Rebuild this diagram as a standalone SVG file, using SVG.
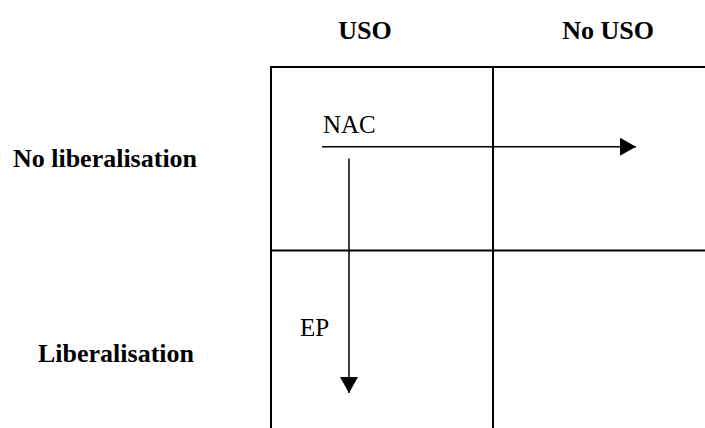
<svg xmlns="http://www.w3.org/2000/svg" width="705" height="428" viewBox="0 0 705 428">
<style>
.hdr{font-family:"Liberation Serif","Times New Roman",serif;font-weight:bold;font-size:26px;fill:#000}
.lbl{font-family:"Liberation Serif","Times New Roman",serif;font-size:25px;fill:#000}
.grid{stroke:#000;stroke-width:2;fill:none}
.conn{stroke:#000;stroke-width:1.5;fill:none}
</style>
<defs>
<marker id="ah" viewBox="0 0 16 18" refX="16" refY="9" markerWidth="16" markerHeight="18" markerUnits="userSpaceOnUse" orient="auto">
<path d="M0,0 L16,9 L0,18 Z" fill="#000"/>
</marker>
</defs>
<g id="headers">
<text class="hdr" x="365" y="39" text-anchor="middle">USO</text>
<text class="hdr" x="608" y="39" text-anchor="middle">No USO</text>
<text class="hdr" x="105" y="167" text-anchor="middle">No liberalisation</text>
<text class="hdr" x="116" y="362" text-anchor="middle">Liberalisation</text>
</g>
<g id="grid">
<path class="grid" d="M271,428 L271,67 L706,67"/>
<path class="grid" d="M493,67 L493,428"/>
<path class="grid" d="M271,250.5 L706,250.5"/>
</g>
<g id="connectors">
<line class="conn" x1="322" y1="146.7" x2="636" y2="146.7" marker-end="url(#ah)"/>
<line class="conn" x1="349" y1="158.5" x2="349" y2="393" marker-end="url(#ah)"/>
</g>
<g id="nac"><text class="lbl" x="323" y="133">NAC</text></g>
<g id="ep"><text class="lbl" x="300" y="336">EP</text></g>
</svg>
